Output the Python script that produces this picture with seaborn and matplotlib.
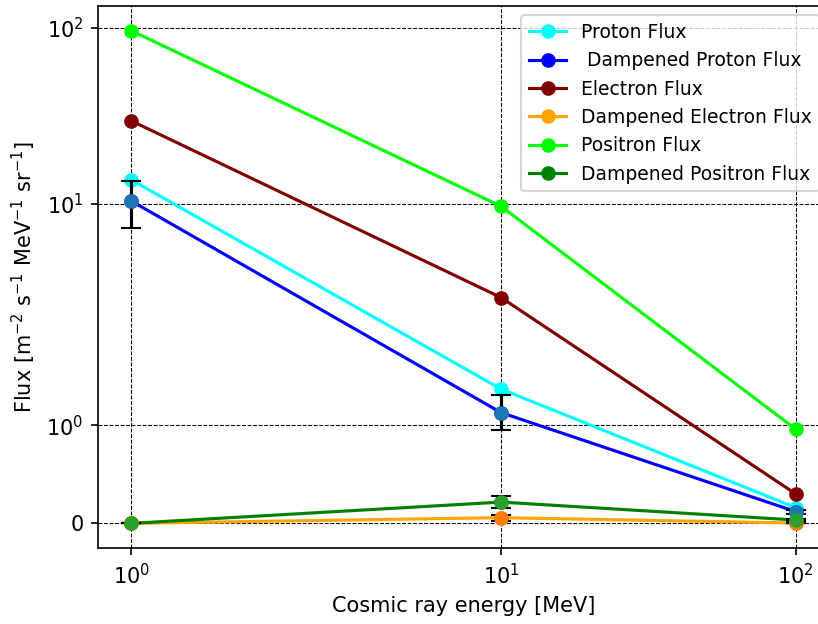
import matplotlib
matplotlib.use("Agg")
import matplotlib.pyplot as plt
import matplotlib.ticker as mticker
import seaborn as sns

# Cosmic ray energies (MeV)
energy = [1, 10, 100]

# Undamped fluxes
proton_flux = [13.7, 1.37, 0.16]
electron_flux = [29.6, 2.95, 0.30]
positron_flux = [96.0, 9.7, 0.96]

# Dampened fluxes with their uncertainties
damp_proton_flux = [10.4, 1.13, 0.12]
damp_proton_err = [3.05, 0.18, 0.02]
damp_electron_flux = [0.0, 0.058, 0.003]
damp_electron_err = [0.0, 0.03, 0.003]
damp_positron_flux = [0.0, 0.217, 0.034]
damp_positron_err = [0.0, 0.064, 0.01]

series = [
    ("Proton Flux", proton_flux, "cyan"),
    (" Dampened Proton Flux", damp_proton_flux, "blue"),
    ("Electron Flux", electron_flux, "maroon"),
    ("Dampened Electron Flux", damp_electron_flux, "orange"),
    ("Positron Flux", positron_flux, "lime"),
    ("Dampened Positron Flux", damp_positron_flux, "green"),
]

fig = plt.figure(figsize=(818 / 150, 624 / 150), dpi=150)
ax = fig.add_axes([98 / 818, 76 / 624, (829 - 98) / 818, (548 - 6) / 624])

for label, values, color in series:
    sns.lineplot(x=energy, y=values, ax=ax, color=color, marker="o",
                 markersize=6, markeredgecolor=color, markeredgewidth=1,
                 linewidth=1.5, label=label)

# Error bars on the dampened fluxes (default colour cycle for the markers)
for values, err in [(damp_proton_flux, damp_proton_err),
                    (damp_electron_flux, damp_electron_err),
                    (damp_positron_flux, damp_positron_err)]:
    ax.errorbar(energy, values, yerr=err, fmt="o", ecolor="black", capsize=5)

ax.set_xscale("symlog", linthresh=2)
ax.set_yscale("symlog", linthresh=2)
ax.set_xticks([1, 10, 100])
ax.set_yticks([0, 1, 10, 100])
ax.xaxis.set_minor_locator(mticker.NullLocator())
ax.yaxis.set_minor_locator(mticker.NullLocator())

ax.grid(True, which="major", linestyle="--", linewidth=0.5, color="black")
ax.set_xlabel("Cosmic ray energy [MeV]")
ax.set_ylabel(r"Flux [m$^{-2}$ s$^{-1}$ MeV$^{-1}$ sr$^{-1}$]")
ax.legend(loc="upper right", fontsize=9)

fig.savefig("out.png", dpi=150)
